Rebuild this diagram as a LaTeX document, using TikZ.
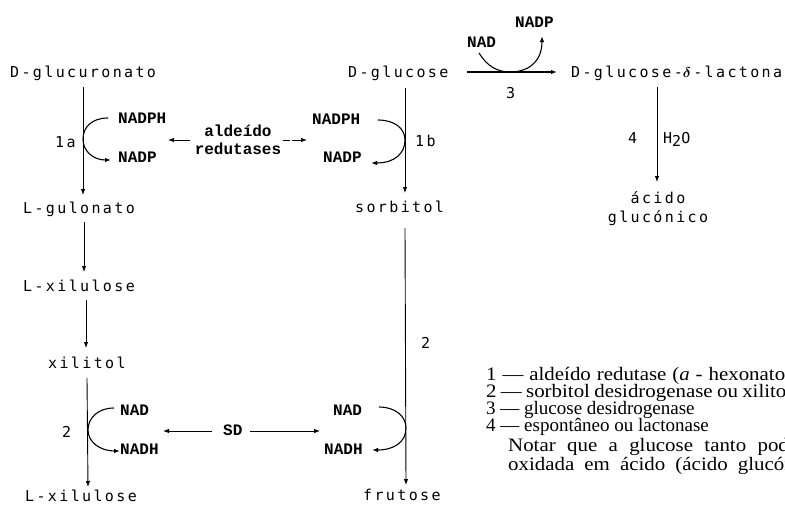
\documentclass[tikz,border=0pt]{standalone}
\usepackage{fontspec}
\setmainfont{Liberation Serif}
\newfontfamily\monofont[LetterSpace=15.8]{DejaVu Sans Mono}
\newfontfamily\labfont{Liberation Mono}
\newfontfamily\legfont{Liberation Serif}
\newfontfamily\legwide[FakeStretch=1.1]{Liberation Serif}
\newfontfamily\legit[FakeStretch=1.1]{Liberation Serif Italic}
\usetikzlibrary{arrows.meta}
\begin{document}
\begin{tikzpicture}[x=1pt,y=-1pt,
  chem/.style={font=\monofont\fontsize{15}{17}\selectfont, inner sep=0pt, anchor=base west},
  cof/.style={font=\labfont\bfseries\fontsize{16}{18}\selectfont, inner sep=0pt, anchor=base west},
  num/.style={font=\monofont\fontsize{15}{17}\selectfont, inner sep=0pt, anchor=base west},
  leg/.style={font=\legfont\fontsize{19}{19}\selectfont, inner sep=0pt, anchor=base west},
  legw/.style={font=\legwide\fontsize{19}{19}\selectfont, inner sep=0pt, anchor=base west},
  arr/.style={-{Latex[length=6pt,width=4.5pt]}, line width=0.9pt},
  carr/.style={-{Latex[length=6pt,width=4.5pt]}, line width=1.1pt},
]
\useasboundingbox[fill=white] (0,0) rectangle (785,504);

% compounds
\node[chem] (dglcA) at (10,77) {D-glucuronato};
\node[chem] (dglc) at (348,77) {D-glucose};
\node[chem] (lact) at (571,77) {D-glucose-{\boldmath$\delta$}\kern2.4pt-lactona};
\node[chem] (lgul) at (23,213) {L-gulonato};
\node[chem] (sorb) at (355,212) {sorbitol};
\node[chem] (lxilA) at (23,291) {L-xilulose};
\node[chem] (xil) at (48,368) {xilitol};
\node[chem] (lxilB) at (25,501) {L-xilulose};
\node[chem] (frut) at (363,500) {frutose};
\node[chem, anchor=base] (acido) at (658,203) {ácido};
\node[chem, anchor=base] (gluconico) at (658,222) {glucónico};

% cofactors
\node[cof] (nadphA) at (118,123) {NADPH};
\node[cof] (nadpA) at (118,162) {NADP};
\node[cof] (nadphB) at (312,124) {NADPH};
\node[cof] (nadpB) at (323,162) {NADP};
\node[cof, anchor=base] (ald) at (238,136) {aldeído};
\node[cof, anchor=base] (red) at (238,154) {redutases};
\node[cof] (nadT) at (467,47) {NAD};
\node[cof] (nadpT) at (515,27) {NADP};
\node[cof] (nadC) at (120,415) {NAD};
\node[cof] (nadhC) at (120,454) {NADH};
\node[cof] (nadD) at (333,415) {NAD};
\node[cof] (nadhD) at (324,454) {NADH};
\node[cof] (sd) at (223,435) {SD};

% numbers
\node[num] (n1a) at (55,147) {1a};
\node[num] (n1b) at (415,146) {1b};
\node[num] (n3) at (506,98) {3};
\node[num] (n2r) at (421,348) {2};
\node[num] (n2l) at (62,437) {2};
\node[num] (n4) at (628,143) {4};
\node[num] (h2o) at (663,143) {H\raisebox{-3pt}{2}O};

% legend
\node[legw] (l1) at (486,380) {\makebox[299pt][s]{1 — aldeído redutase ({\legit a} - hexonato}};
\node[legw] (l2) at (486,397) {\makebox[306pt][s]{2 — sorbitol desidrogenase ou xilitol}};
\node[leg] (l3) at (486,414) {3 — glucose desidrogenase};
\node[leg] (l4) at (486,431) {4 — espontâneo ou lactonase};
\node[legw] (l5) at (508,451) {\makebox[290pt][s]{Notar que a glucose tanto pode}};
\node[legw] (l6) at (508,470) {\makebox[312pt][s]{oxidada em ácido (ácido glucónico}};

% coordinates for connector ends
\coordinate (a1s) at (83,87);   \coordinate (a1e) at (83,195);
\coordinate (b1s) at (405,88);  \coordinate (b1e) at (405,193);
\coordinate (g1s) at (84,222);  \coordinate (g1e) at (84,272);
\coordinate (x1s) at (86,300);  \coordinate (x1e) at (86,348);
\coordinate (x2s) at (87,378);  \coordinate (x2e) at (88,487);
\coordinate (s1s) at (405,228); \coordinate (s1e) at (406,485);
\coordinate (t3s) at (467,72);  \coordinate (t3e) at (557,72);
\coordinate (t4s) at (657,87);  \coordinate (t4e) at (657,182);
\coordinate (rl1) at (190,140); \coordinate (rl2) at (168,140);
\coordinate (rr1) at (283,140); \coordinate (rr2) at (307,140);
\coordinate (sl1) at (212,431); \coordinate (sl2) at (163,431);
\coordinate (sr1) at (250,431); \coordinate (sr2) at (320,431);

% main arrows
\draw[arr] (a1s) -- (a1e);
\draw[arr] (b1s) -- (b1e);
\draw[arr] (g1s) -- (g1e);
\draw[arr] (x1s) -- (x1e);
\draw[arr] (x2s) -- (x2e);
\draw[arr] (s1s) -- (s1e);
\draw[arr, line width=1.4pt] (t3s) -- (t3e);
\draw[arr] (t4s) -- (t4e);

% enzyme arrows
\draw[arr] (rl1) -- (rl2);
\draw[arr, dash pattern=on 7pt off 2pt on 40pt] (rr1) -- (rr2);
\draw[arr] (sl1) -- (sl2);
\draw[arr] (sr1) -- (sr2);

% cofactor curves
\coordinate (c1s) at (108,118); \coordinate (c1m) at (83,139); \coordinate (c1e) at (111,160);
\draw[carr] (c1s) .. controls (92,118) and (83,127) .. (c1m) .. controls (83,151) and (93,160) .. (c1e);
\coordinate (c2s) at (378,120); \coordinate (c2m) at (405,140); \coordinate (c2e) at (371,163);
\draw[carr] (c2s) .. controls (394,120) and (405,128) .. (c2m) .. controls (405,153) and (395,163) .. (c2e);
\coordinate (c3s) at (479,53); \coordinate (c3m) at (510,72); \coordinate (c3e) at (542,36);
\draw[carr] (c3s) .. controls (487,66) and (497,72) .. (c3m) .. controls (528,72) and (542,62) .. (c3e);
\coordinate (c4s) at (114,408); \coordinate (c4m) at (88,430); \coordinate (c4e) at (120,451);
\draw[carr] (c4s) .. controls (98,408) and (88,418) .. (c4m) .. controls (88,442) and (100,451) .. (c4e);
\coordinate (c5s) at (379,407); \coordinate (c5m) at (406,428); \coordinate (c5e) at (372,450);
\draw[carr] (c5s) .. controls (395,407) and (406,416) .. (c5m) .. controls (406,442) and (394,450) .. (c5e);
\end{tikzpicture}
\end{document}
